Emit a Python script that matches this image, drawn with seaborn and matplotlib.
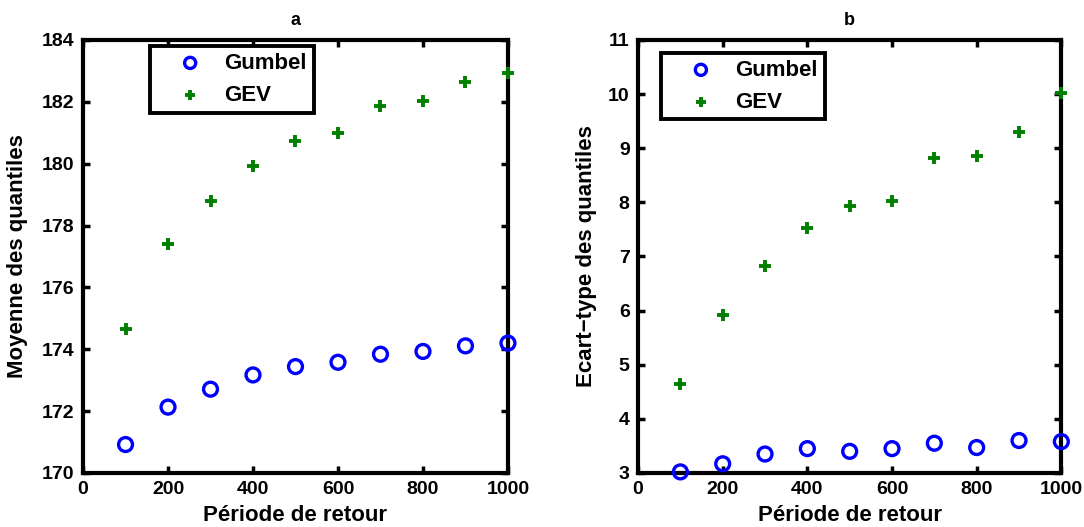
import numpy as np
import pandas as pd
import matplotlib
matplotlib.use("Agg")
import matplotlib.pyplot as plt
import seaborn as sns

# return periods
periodes = [100, 200, 300, 400, 500, 600, 700, 800, 900, 1000]

# panel a : mean of quantiles
moy_gumbel = [170.92, 172.13, 172.71, 173.17, 173.44, 173.58, 173.84, 173.93, 174.11, 174.20]
moy_gev = [174.65, 177.39, 178.78, 179.91, 180.72, 180.98, 181.88, 182.02, 182.64, 182.92]

# panel b : std of quantiles
std_gumbel = [3.02, 3.17, 3.35, 3.45, 3.40, 3.45, 3.55, 3.47, 3.60, 3.58]
std_gev = [4.65, 5.91, 6.83, 7.53, 7.94, 8.02, 8.82, 8.86, 9.30, 10.02]

xticks = [0, 200, 400, 600, 800, 1000]
yticks_a = [170, 172, 174, 176, 178, 180, 182, 184]
yticks_b = [3, 4, 5, 6, 7, 8, 9, 10, 11]

sns.set_style("white")
plt.rcParams['font.family'] = ['Liberation Sans', 'DejaVu Sans']
plt.rcParams['font.weight'] = 'bold'
plt.rcParams['text.color'] = 'black'
plt.rcParams['axes.labelcolor'] = 'black'
plt.rcParams['xtick.color'] = 'black'
plt.rcParams['ytick.color'] = 'black'

fig = plt.figure(figsize=(10.84, 5.27), dpi=100)
ax_a = fig.add_axes([0.0766, 0.1025, 0.392, 0.8216])
ax_b = fig.add_axes([0.5886, 0.1025, 0.3905, 0.8216])

panels = [
    (ax_a, moy_gumbel, moy_gev, yticks_a, 'Moyenne des quantiles', 'a', (0.158, 0.986), 10),
    (ax_b, std_gumbel, std_gev, yticks_b, 'Ecart\u2212type des quantiles', 'b', (0.054, 0.970), 8),
]

for ax, gum, gev, yt, ylab, titre, leg_pos, ypad in panels:
    df = pd.DataFrame({'T': periodes, 'Gumbel': gum, 'GEV': gev})
    sns.scatterplot(data=df, x='T', y='Gumbel', ax=ax, marker='o', s=100,
                    facecolors='none', edgecolors='#0000ff', linewidth=2.4,
                    label='Gumbel', zorder=3, clip_on=False)
    sns.scatterplot(data=df, x='T', y='GEV', ax=ax, marker='+', s=70,
                    color='#008000', linewidth=2.8, label='GEV', zorder=3,
                    clip_on=False)
    ax.set_xlim(0, 1000)
    ax.set_ylim(yt[0], yt[-1])
    ax.set_xticks(xticks)
    ax.set_yticks(yt)
    ax.tick_params(direction='in', length=5, width=2.5, labelsize=14,
                   top=True, right=True, bottom=True, left=True, pad=6)
    for lab in ax.get_xticklabels() + ax.get_yticklabels():
        lab.set_fontweight('bold')
    for sp in ax.spines.values():
        sp.set_linewidth(3)
        sp.set_color('black')
    ax.set_xlabel('P\u00e9riode de retour', fontsize=16, fontweight='bold', labelpad=5)
    ax.set_ylabel(ylab, fontsize=16, fontweight='bold', labelpad=ypad)
    ax.set_title(titre, fontsize=13, fontweight='bold', pad=11)
    leg = ax.legend(loc='upper left', bbox_to_anchor=leg_pos, fancybox=False,
                    framealpha=1, edgecolor='black', fontsize=16,
                    handletextpad=0.05, borderpad=0.3, labelspacing=0.5,
                    handlelength=3.0, borderaxespad=0, markerscale=0.8)
    leg.get_frame().set_linewidth(2.8)
    for t in leg.get_texts():
        t.set_fontweight('bold')

fig.savefig('out.png', dpi=100)
